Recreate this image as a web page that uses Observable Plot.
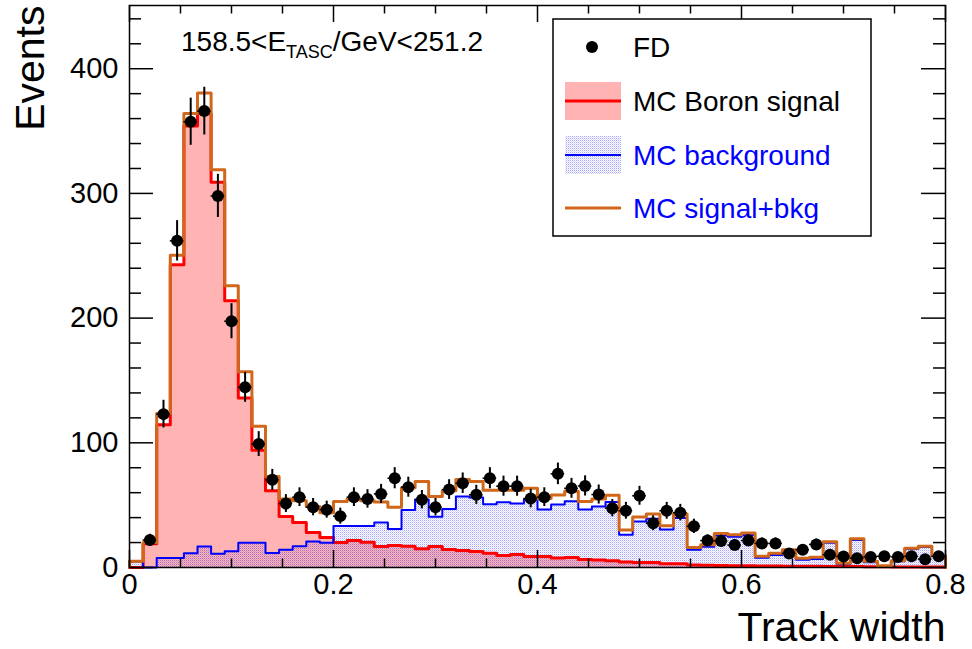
<!DOCTYPE html>
<html><head><meta charset="utf-8">
<script src="https://cdn.jsdelivr.net/npm/d3@7"></script>
<script src="https://cdn.jsdelivr.net/npm/@observablehq/plot@0.6"></script>
<style>body{margin:0;background:#fff;} svg{display:block;}</style>
</head><body><div id="chart"></div>
<script>
// ---- data ----
const X_MIN = 0, X_MAX = 0.8, N_BINS = 60;
const signal = [0, 19, 114.4, 242.7, 354, 364, 309, 214, 136, 94,
  61.5, 41, 36, 28, 24, 20, 21.7, 20.3, 16.8, 17.6,
  17, 15, 16.8, 14.4, 13.6, 12.8, 11.5, 9.6, 10.4, 8.8,
  8.8, 7.7, 8, 6.5, 6, 5.5, 4.5, 4, 4, 3,
  3, 2, 1.8, 1.6, 1.5, 1.4, 1.2, 1.2, 1.1, 1.0,
  1.0, 0.8, 0.8, 0.8, 0.6, 0.6, 0.5, 0.5, 0.4, 0.4];
const background = [4.8, 0, 7.7, 7.7, 11.5, 16.8, 11, 13.1, 19.8, 19.8,
  11.6, 14.2, 17, 20.9, 19.8, 33.2, 33.2, 33.2, 36, 30.8,
  46.2, 54.5, 40.7, 47, 56.9, 56.2, 50.8, 52.4, 51.4, 54.7,
  46.5, 50.5, 53.2, 46.5, 49, 52.6, 26.2, 36.9, 39, 30.5,
  39.7, 14.2, 16.6, 25.7, 24.6, 26, 7.8, 10, 13, 6.3,
  6.8, 19.9, 2.7, 22, 4.3, 0.8, 5, 14.8, 16.4, 9];
const total = [5, 20, 123.5, 250.5, 364, 380.6, 319, 226, 157, 113.3,
  73, 55, 53.5, 49, 44, 53, 55, 53.5, 52.5, 48.4,
  64, 69, 57, 61.5, 70.5, 69, 62, 62, 62, 63.5,
  55.3, 58.2, 61.2, 53, 55, 58, 30, 40.5, 43, 33.5,
  43, 16, 18.3, 27.3, 26.2, 27.6, 9.1, 11.5, 14.2, 7.5,
  8.2, 20.6, 3.5, 23, 5, 1.5, 5.5, 15.4, 17, 9.5];
const flightData = [null, 22, 123, 262, 357.5, 366, 298, 197.5, 144.5, 99,
  70.3, 51.3, 56.4, 48.4, 46.4, 41.2, 56.4, 55, 59, 71.6,
  64.4, 54.4, 48.4, 62.5, 67.6, 58.3, 71.6, 65.2, 65.2, 55.3,
  56.4, 75.1, 63.5, 65.4, 58.5, 47.6, 45.5, 57.5, 35.5, 45.5,
  44, 33, 21.6, 21.3, 18, 21.6, 19.3, 19.3, 11.3, 14.3,
  18.5, 10.3, 8.8, 7.5, 8.5, 9, 8.5, 9, 6.7, 9];
const xMajorTicks = [0, 0.2, 0.4, 0.6, 0.8];
const xMinorTicks = [0.05, 0.1, 0.15, 0.25, 0.3, 0.35, 0.45, 0.5, 0.55, 0.65, 0.7, 0.75];
const yMajorTicks = [0, 100, 200, 300, 400];
const yMinorTicks = [20, 40, 60, 80, 120, 140, 160, 180, 220, 240, 260, 280, 320, 340, 360, 380, 420, 440];
const xTickLabels = ["0", "0.2", "0.4", "0.6", "0.8"];
const yTickLabels = ["0", "100", "200", "300", "400"];
const legendLabels = ["FD", "MC Boron signal", "MC background", "MC signal+bkg"];
const annotationParts = ["158.5<E", "TASC", "/GeV<251.2"];
const Y_MAX = 450.7;

// ---- layout ----
const W = 972, H = 649, ML = 129, MR = 27, MT = 5, MB = 82;
const plotW = W - ML - MR, plotH = H - MT - MB;
const FONT = "'Liberation Sans', Arial, Helvetica, sans-serif";
const ORANGE = "#d0671a", PINK = "#ffb3b3";

const binW = (X_MAX - X_MIN) / N_BINS;
const bins = signal.map((s, i) => ({
  lo: X_MIN + i * binW, hi: X_MIN + (i + 1) * binW,
  sig: s, bkg: background[i], tot: total[i], fd: flightData[i]
}));
function steps(key) {
  const pts = [{x: bins[0].lo, y: 0}];
  for (const b of bins) { pts.push({x: b.lo, y: b[key]}); pts.push({x: b.hi, y: b[key]}); }
  pts.push({x: bins[bins.length - 1].hi, y: 0});
  return pts;
}
const fdBins = bins.filter(b => b.fd != null);
const mid = b => (b.lo + b.hi) / 2;

const chart = Plot.plot({
  width: W, height: H,
  marginLeft: ML, marginRight: MR, marginTop: MT, marginBottom: MB,
  style: {fontFamily: FONT, color: "black", background: "white"},
  x: {domain: [X_MIN, X_MAX], axis: null},
  y: {domain: [0, Y_MAX], axis: null},
  marks: [
    Plot.areaY(steps("sig"), {x: "x", y1: 0, y2: "y", fill: PINK}),
    Plot.areaY(steps("bkg"), {x: "x", y1: 0, y2: "y", fill: "url(#bkgPattern)"}),
    Plot.line(steps("sig"), {x: "x", y: "y", stroke: "#ff0000", strokeWidth: 3}),
    Plot.line(steps("bkg"), {x: "x", y: "y", stroke: "#0000ff", strokeWidth: 2}),
    Plot.line(steps("tot"), {x: "x", y: "y", stroke: ORANGE, strokeWidth: 3}),
    Plot.ruleX(fdBins, {x: mid, y1: d => d.fd - Math.sqrt(d.fd), y2: d => d.fd + Math.sqrt(d.fd), stroke: "black", strokeWidth: 2}),
    Plot.ruleY(fdBins, {y: "fd", x1: "lo", x2: "hi", stroke: "black", strokeWidth: 1.5}),
    Plot.dot(fdBins, {x: mid, y: "fd", r: 6, fill: "black"}),
    // ticks (inside the frame, on all four sides)
    Plot.tickX(xMajorTicks, {x: d => d, stroke: "black", strokeWidth: 1.5, insetTop: plotH - 17}),
    Plot.tickX(xMinorTicks, {x: d => d, stroke: "black", strokeWidth: 1.5, insetTop: plotH - 8.5}),
    Plot.tickX(xMajorTicks, {x: d => d, stroke: "black", strokeWidth: 1.5, insetBottom: plotH - 17}),
    Plot.tickX(xMinorTicks, {x: d => d, stroke: "black", strokeWidth: 1.5, insetBottom: plotH - 8.5}),
    Plot.tickY(yMajorTicks, {y: d => d, stroke: "black", strokeWidth: 1.5, insetRight: plotW - 24}),
    Plot.tickY(yMinorTicks, {y: d => d, stroke: "black", strokeWidth: 1.5, insetRight: plotW - 12}),
    Plot.tickY(yMajorTicks, {y: d => d, stroke: "black", strokeWidth: 1.5, insetLeft: plotW - 24}),
    Plot.tickY(yMinorTicks, {y: d => d, stroke: "black", strokeWidth: 1.5, insetLeft: plotW - 12}),
    Plot.frame({stroke: "black", strokeWidth: 1.5}),
    // tick labels
    Plot.text(xMajorTicks, {x: d => d, text: (d, i) => xTickLabels[i], frameAnchor: "bottom", dy: 6, lineAnchor: "top", fontSize: 29}),
    Plot.text(yMajorTicks, {y: d => d, text: (d, i) => yTickLabels[i], frameAnchor: "left", dx: -11, textAnchor: "end", lineAnchor: "middle", fontSize: 29}),
    // axis titles
    Plot.text(["Events"], {text: d => d, frameAnchor: "top-left", dx: -99, dy: 0, rotate: -90, textAnchor: "end", lineAnchor: "middle", fontSize: 41}),
    Plot.text(["Track width"], {text: d => d, frameAnchor: "bottom-right", dx: 0, dy: 60, textAnchor: "end", lineAnchor: "middle", fontSize: 41})
  ]
});
document.getElementById("chart").appendChild(chart);

const svg = d3.select(chart);
const defs = svg.insert("defs", ":first-child");
const pat = defs.append("pattern").attr("id", "bkgPattern").attr("patternUnits", "userSpaceOnUse")
  .attr("width", 2).attr("height", 2);
pat.append("rect").attr("x", 0).attr("y", 0).attr("width", 1).attr("height", 1).attr("fill", "#0000ff").attr("fill-opacity", 0.36).attr("shape-rendering", "crispEdges");
pat.append("rect").attr("x", 1).attr("y", 1).attr("width", 1).attr("height", 1).attr("fill", "#0000ff").attr("fill-opacity", 0.15).attr("shape-rendering", "crispEdges");

// annotation with subscript
const ann = svg.append("text").attr("x", 181).attr("y", 51).attr("font-size", 28).attr("font-family", FONT)
  .attr("fill", "black").attr("text-anchor", "start");
ann.append("tspan").text(annotationParts[0]);
ann.append("tspan").attr("font-size", 18).attr("dy", 7).text(annotationParts[1]);
ann.append("tspan").attr("font-size", 28).attr("dy", -7).text(annotationParts[2]);

// legend
const lg = svg.append("g").attr("font-family", FONT).attr("font-size", 28).attr("text-anchor", "start");
lg.append("rect").attr("x", 553).attr("y", 19).attr("width", 318).attr("height", 217)
  .attr("fill", "white").attr("stroke", "black").attr("stroke-width", 1.5);
const rowY = [47, 101, 155, 208];
const textColors = ["black", "black", "#0000ff", "#0000ff"];
legendLabels.forEach((lab, i) => {
  const y = rowY[i];
  if (i === 0) {
    lg.append("circle").attr("cx", 592).attr("cy", y).attr("r", 6).attr("fill", "black");
  } else if (i === 1) {
    lg.append("rect").attr("x", 565).attr("y", y - 19).attr("width", 56).attr("height", 38).attr("fill", PINK);
    lg.append("line").attr("x1", 565).attr("x2", 621).attr("y1", y).attr("y2", y).attr("stroke", "#ff0000").attr("stroke-width", 3);
  } else if (i === 2) {
    lg.append("rect").attr("x", 565).attr("y", y - 19).attr("width", 56).attr("height", 38).attr("fill", "url(#bkgPattern)");
    lg.append("line").attr("x1", 565).attr("x2", 621).attr("y1", y).attr("y2", y).attr("stroke", "#0000ff").attr("stroke-width", 2);
  } else {
    lg.append("line").attr("x1", 565).attr("x2", 621).attr("y1", y).attr("y2", y).attr("stroke", ORANGE).attr("stroke-width", 3);
  }
  lg.append("text").attr("x", 633).attr("y", y).attr("dy", "0.36em").attr("fill", textColors[i]).text(lab);
});
</script></body></html>
